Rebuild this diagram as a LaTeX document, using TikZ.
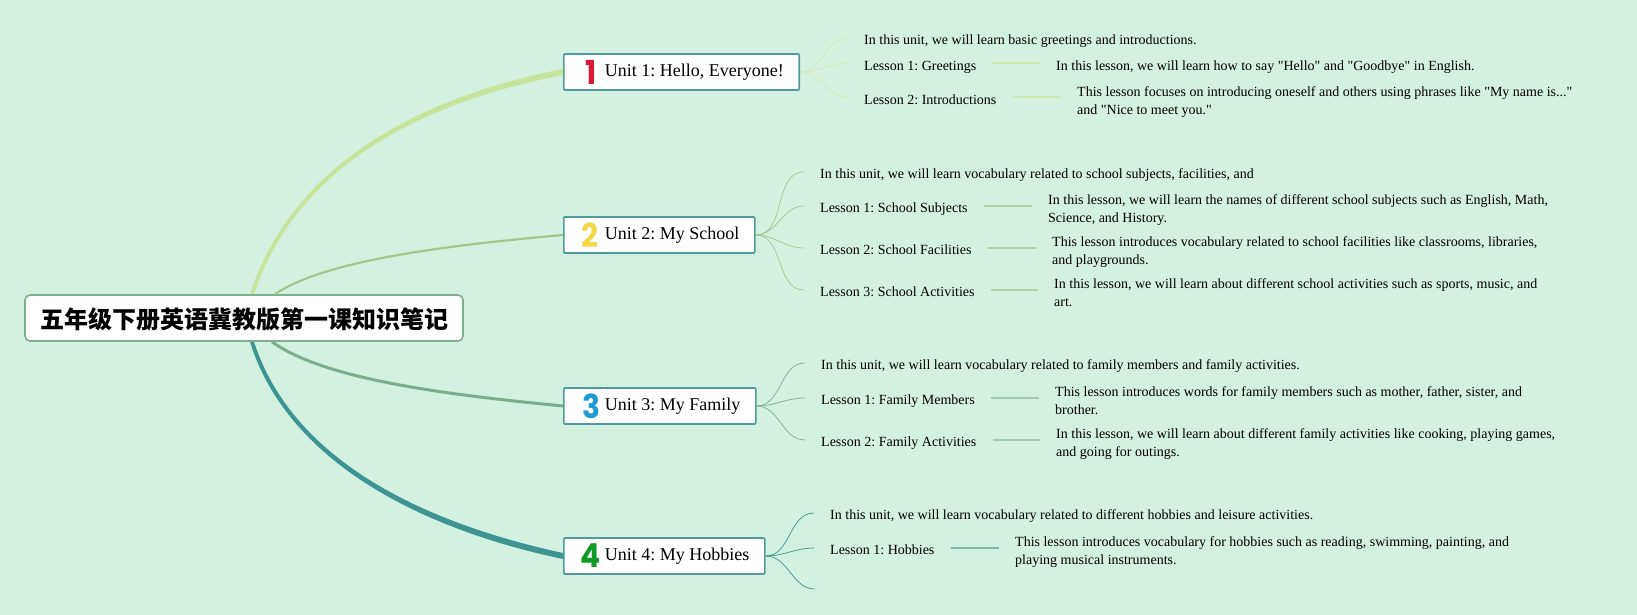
\documentclass[tikz,border=0pt]{standalone}
\usepackage{fontspec}
\setmainfont{Liberation Serif}[Ligatures=TeXOff]
\newfontfamily\cjkfont{Noto Sans CJK SC}
\newfontfamily\digitfont{Poppins}
\frenchspacing
\usetikzlibrary{arrows}

\definecolor{bgmint}{HTML}{D3F1E1}
\definecolor{rootline}{HTML}{7FAE8F}
\definecolor{boxline}{HTML}{4F9A9A}
\definecolor{branchA}{HTML}{C6E59C}
\definecolor{branchB}{HTML}{9FC88A}
\definecolor{branchC}{HTML}{7AAE8C}
\definecolor{branchD}{HTML}{3E9490}
\definecolor{numA}{HTML}{D9173B}
\definecolor{numB}{HTML}{F5D84A}
\definecolor{numC}{HTML}{1E9AD6}
\definecolor{numD}{HTML}{109A28}

\tikzset{
	root/.style={draw=rootline, line width=1.6pt, fill=white, rounded corners=5pt, minimum width=438pt, minimum height=46pt, text height=24pt, text depth=4pt, font=\cjkfont\bfseries\fontsize{24}{28}\selectfont},
	unit/.style={draw=boxline, line width=1.6pt, fill=white, rounded corners=1pt, anchor=west, minimum height=36pt, inner xsep=15.5pt, font=\fontsize{18}{22}\selectfont},
	num/.style={font=\digitfont\bfseries\fontsize{33}{33}\selectfont, inner sep=0pt, xscale=0.9, transform shape},
	item/.style={anchor=west, inner xsep=16pt, inner ysep=0pt, text height=15pt, text depth=3pt, font=\fontsize{14}{18}\selectfont},
	desc/.style={anchor=west, inner xsep=16pt, inner ysep=0pt, text depth=3pt, align=left, font=\fontsize{14}{18}\selectfont},
	twig/.style={line width=0.7pt, out=0, in=180},
	rule/.style={line width=1.6pt}
}

\begin{document}
\begin{tikzpicture}[x=1pt, y=-1pt]
	\useasboundingbox (0, 0) rectangle (1637, 615);
	\fill[bgmint] (0, 0) rectangle (1637, 615);

	\node[root] (root) at (244, 318) {五年级下册英语冀教版第一课知识笔记};

	\node[unit] (u1) at (563, 72) {\hspace*{25.5pt}Unit 1: Hello, Everyone!};
	\node[unit] (u2) at (563, 235) {\hspace*{25.5pt}Unit 2: My School};
	\node[unit] (u3) at (563, 406) {\hspace*{25.5pt}Unit 3: My Family};
	\node[unit] (u4) at (563, 556) {\hspace*{25.5pt}Unit 4: My Hobbies};

	\node[num, text=numA] (n1) at (591.5, 72) {1};
	\node[num, text=numB] (n2) at (590, 235) {2};
	\node[num, text=numC] (n3) at (591, 406) {3};
	\node[num, text=numD] (n4) at (591, 556) {4};

	% unit 1
	\node[item, text height=17pt] (s1) at (848, 38) {In this unit, we will learn basic greetings and introductions.};
	\node[item, text height=19pt] (l11) at (848, 63) {Lesson 1: Greetings};
	\node[item, text height=19pt] (l12) at (848, 97) {Lesson 2: Introductions};
	\node[desc] (d11) at (1040, 67.3) {In this lesson, we will learn how to say "Hello" and "Goodbye" in English.};
	\node[desc] (d12) at (1061, 102.3) {This lesson focuses on introducing oneself and others using phrases like "My name is..."\\and "Nice to meet you."};

	% unit 2
	\node[item] (s2) at (804, 172) {In this unit, we will learn vocabulary related to school subjects, facilities, and};
	\node[item] (l21) at (804, 206) {Lesson 1: School Subjects};
	\node[item] (l22) at (804, 248) {Lesson 2: School Facilities};
	\node[item] (l23) at (804, 290) {Lesson 3: School Activities};
	\node[desc] (d21) at (1032, 210.3) {In this lesson, we will learn the names of different school subjects such as English, Math,\\Science, and History.};
	\node[desc] (d22) at (1036, 252.3) {This lesson introduces vocabulary related to school facilities like classrooms, libraries,\\and playgrounds.};
	\node[desc] (d23) at (1038, 294.3) {In this lesson, we will learn about different school activities such as sports, music, and\\art.};

	% unit 3
	\node[item] (s3) at (805, 363) {In this unit, we will learn vocabulary related to family members and family activities.};
	\node[item] (l31) at (805, 398) {Lesson 1: Family Members};
	\node[item] (l32) at (805, 440) {Lesson 2: Family Activities};
	\node[desc] (d31) at (1039, 402.3) {This lesson introduces words for family members such as mother, father, sister, and\\brother.};
	\node[desc] (d32) at (1040, 444.3) {In this lesson, we will learn about different family activities like cooking, playing games,\\and going for outings.};

	% unit 4
	\node[item] (s4) at (814, 513) {In this unit, we will learn vocabulary related to different hobbies and leisure activities.};
	\node[item] (l41) at (814, 548) {Lesson 1: Hobbies};
	\node[desc] (d41) at (999, 552.3) {This lesson introduces vocabulary for hobbies such as reading, swimming, painting, and\\playing musical instruments.};
	\coordinate (e4) at (815, 589);

	% main branches
	\fill[branchA] ([xshift=6pt]root.north) .. controls (292, 164) and (420, 97) .. ([yshift=3pt]u1.west)
		-- ([yshift=-3pt]u1.west) .. controls (420, 103) and (297, 166) .. ([xshift=10pt]root.north) -- cycle;
	\draw[branchB, line width=2.2pt] ([xshift=31pt]root.north) .. controls (325, 260) and (450, 245) .. (u2.west);
	\draw[branchC, line width=3pt] ([xshift=28pt]root.south) .. controls (325, 380) and (450, 395) .. (u3.west);
	\fill[branchD] ([xshift=6pt]root.south) .. controls (287, 461) and (420, 529) .. ([yshift=-3pt]u4.west)
		-- ([yshift=3pt]u4.west) .. controls (420, 522) and (292, 459) .. ([xshift=10pt]root.south) -- cycle;

	% twigs
	\path[draw=branchA!80!white] (u1.east) edge[twig] (s1.west)
		(u1.east) edge[twig] (l11.west)
		(u1.east) edge[twig] (l12.west);
	\path[draw=branchB] (u2.east) edge[twig] (s2.west)
		(u2.east) edge[twig] (l21.west)
		(u2.east) edge[twig] (l22.west)
		(u2.east) edge[twig] (l23.west);
	\path[draw=branchC] (u3.east) edge[twig] (s3.west)
		(u3.east) edge[twig] (l31.west)
		(u3.east) edge[twig] (l32.west);
	\path[draw=branchD] (u4.east) edge[twig] (s4.west)
		(u4.east) edge[twig] (l41.west)
		(u4.east) edge[twig] (e4);

	% rules
	\draw[rule, branchA!70!bgmint] (l11.east) -- (l11.east -| d11.west);
	\draw[rule, branchA!70!bgmint] (l12.east) -- (l12.east -| d12.west);
	\draw[rule, branchB!70!bgmint] (l21.east) -- (l21.east -| d21.west);
	\draw[rule, branchB!70!bgmint] (l22.east) -- (l22.east -| d22.west);
	\draw[rule, branchB!70!bgmint] (l23.east) -- (l23.east -| d23.west);
	\draw[rule, branchC!60!bgmint] (l31.east) -- (l31.east -| d31.west);
	\draw[rule, branchC!60!bgmint] (l32.east) -- (l32.east -| d32.west);
	\draw[rule, branchD!60!bgmint] (l41.east) -- (l41.east -| d41.west);
\end{tikzpicture}
\end{document}
